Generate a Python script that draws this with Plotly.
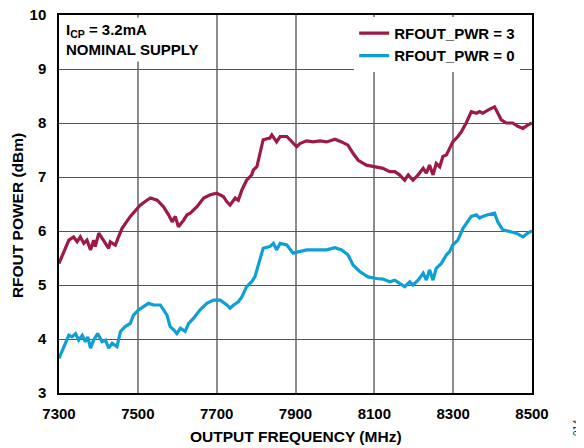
import plotly.graph_objects as go

freq_hi = [7300, 7325, 7337, 7346, 7354, 7363, 7371, 7380, 7388, 7392, 7401, 7413, 7426, 7430, 7443, 7451,
           7460, 7481, 7494, 7506, 7523, 7532, 7549, 7565, 7578, 7587, 7595, 7603, 7616, 7625, 7633, 7650,
           7667, 7684, 7700, 7717, 7726, 7734, 7747, 7755, 7764, 7776, 7789, 7793, 7802, 7818, 7835, 7840,
           7852, 7861, 7878, 7894, 7903, 7911, 7928, 7945, 7962, 7979, 8000, 8017, 8033, 8046, 8059, 8080,
           8101, 8122, 8139, 8152, 8164, 8177, 8186, 8198, 8211, 8224, 8232, 8240, 8249, 8257, 8266, 8274,
           8283, 8291, 8299, 8312, 8321, 8333, 8346, 8359, 8367, 8375, 8388, 8405, 8413, 8422, 8435, 8451,
           8464, 8477, 8489, 8500]
pwr_hi = [5.40, 5.83, 5.89, 5.80, 5.89, 5.77, 5.83, 5.65, 5.83, 5.71, 5.96, 5.83, 5.68, 5.80, 5.74, 5.89,
          6.05, 6.27, 6.39, 6.48, 6.57, 6.61, 6.57, 6.45, 6.30, 6.17, 6.27, 6.08, 6.20, 6.30, 6.33, 6.45,
          6.61, 6.67, 6.70, 6.64, 6.54, 6.48, 6.61, 6.57, 6.76, 6.94, 7.04, 7.13, 7.19, 7.69, 7.72, 7.78,
          7.65, 7.75, 7.75, 7.62, 7.56, 7.62, 7.67, 7.65, 7.67, 7.65, 7.70, 7.65, 7.59, 7.44, 7.31, 7.22,
          7.19, 7.16, 7.10, 7.10, 7.04, 6.94, 7.04, 6.94, 7.04, 7.16, 7.07, 7.22, 7.04, 7.25, 7.19, 7.38,
          7.41, 7.53, 7.65, 7.75, 7.84, 8.00, 8.21, 8.18, 8.21, 8.18, 8.24, 8.30, 8.18, 8.06, 8.00, 8.00,
          7.94, 7.90, 7.96, 8.00]

freq_lo = [7300, 7312, 7325, 7333, 7342, 7350, 7359, 7367, 7373, 7380, 7388, 7398, 7409, 7418, 7426, 7435,
           7447, 7456, 7468, 7481, 7489, 7502, 7515, 7527, 7540, 7557, 7574, 7582, 7591, 7599, 7608, 7620,
           7629, 7641, 7658, 7675, 7692, 7709, 7726, 7734, 7743, 7755, 7764, 7776, 7789, 7797, 7818, 7835,
           7844, 7852, 7861, 7878, 7894, 7911, 7928, 7945, 7962, 7979, 8000, 8017, 8033, 8046, 8063, 8084,
           8106, 8122, 8139, 8152, 8164, 8177, 8190, 8198, 8211, 8224, 8232, 8240, 8249, 8257, 8270, 8283,
           8291, 8299, 8312, 8325, 8346, 8359, 8367, 8375, 8388, 8405, 8413, 8426, 8443, 8460, 8477, 8489,
           8500]
pwr_lo = [3.64, 3.86, 4.07, 4.04, 4.10, 3.98, 4.07, 3.95, 4.04, 3.83, 3.98, 4.10, 3.95, 3.98, 3.83, 3.92,
          3.86, 4.14, 4.23, 4.29, 4.44, 4.54, 4.60, 4.66, 4.63, 4.63, 4.44, 4.23, 4.17, 4.10, 4.20, 4.14,
          4.29, 4.38, 4.54, 4.66, 4.72, 4.72, 4.63, 4.57, 4.63, 4.69, 4.78, 4.97, 5.06, 5.15, 5.68, 5.71,
          5.77, 5.65, 5.77, 5.74, 5.59, 5.62, 5.65, 5.65, 5.65, 5.65, 5.69, 5.65, 5.56, 5.37, 5.25, 5.15,
          5.12, 5.11, 5.06, 5.09, 5.03, 4.97, 5.06, 5.00, 5.09, 5.22, 5.09, 5.28, 5.09, 5.31, 5.40, 5.56,
          5.62, 5.74, 5.83, 6.05, 6.27, 6.30, 6.24, 6.27, 6.30, 6.33, 6.17, 6.02, 5.99, 5.96, 5.89, 5.96,
          6.00]

x_ticks = [7300, 7500, 7700, 7900, 8100, 8300, 8500]
y_ticks = [3, 4, 5, 6, 7, 8, 9, 10]

FONT = "Liberation Sans"
RED = "#9c1a43"
BLUE = "#0ea0d5"

fig = go.Figure()
fig.add_trace(go.Scatter(x=freq_hi, y=pwr_hi, mode="lines", name="<b>RFOUT_PWR = 3</b>",
                         line=dict(color=RED, width=3.2)))
fig.add_trace(go.Scatter(x=freq_lo, y=pwr_lo, mode="lines", name="<b>RFOUT_PWR = 0</b>",
                         line=dict(color=BLUE, width=3.2)))

# page has an 8px body margin, so the figure is 576x440 and offset by 8px
fig.update_layout(
    width=576, height=440,
    margin=dict(l=51, r=52, t=7, b=55, autoexpand=False),
    paper_bgcolor="white", plot_bgcolor="white",
    font=dict(family=FONT, size=15, color="black"),
    showlegend=True,
    legend=dict(x=0.975, xanchor="right", y=0.995, yanchor="top", bgcolor="white",
                font=dict(family=FONT, size=15, color="black"),
                tracegroupgap=0, itemwidth=30, borderwidth=0),
    xaxis=dict(range=[7300, 8500], tickvals=x_ticks, ticktext=[f"<b>{v}</b>" for v in x_ticks],
               showgrid=True, gridcolor="#8c8c8c", gridwidth=1.5, automargin=False,
               showline=True, linecolor="black", linewidth=1.5, mirror=True,
               ticks="", ticklabelstandoff=6, zeroline=False, ticklabeloverflow="allow",
               tickfont=dict(family=FONT, size=15)),
    yaxis=dict(range=[3, 10], tickvals=y_ticks, ticktext=[f"<b>{v}</b>" for v in y_ticks],
               showgrid=True, gridcolor="#555555", gridwidth=1.2, automargin=False,
               showline=True, linecolor="black", linewidth=1.5, mirror=True,
               ticks="", ticklabelstandoff=8, zeroline=False, ticklabeloverflow="allow",
               tickfont=dict(family=FONT, size=15)),
)

fig.add_annotation(xref="paper", yref="paper", x=0.5, y=0.0, xanchor="center", yanchor="middle",
                   yshift=-43, text="<b>OUTPUT FREQUENCY (MHz)</b>", showarrow=False,
                   font=dict(family=FONT, size=15.5, color="black"))
fig.add_annotation(xref="paper", yref="paper", x=0.0, y=0.468, xanchor="center", yanchor="middle",
                   xshift=-42, text="<b>RFOUT POWER (dBm)</b>", textangle=-90, showarrow=False,
                   font=dict(family=FONT, size=15.5, color="black"))

fig.add_annotation(xref="paper", yref="paper", x=0.0, y=1.0, xanchor="left", yanchor="top",
                   xshift=3, yshift=-2,
                   text="<b>I<sub>CP</sub> = 3.2mA<br>NOMINAL SUPPLY</b>", showarrow=False,
                   align="left", bgcolor="white", borderpad=3,
                   font=dict(family=FONT, size=15, color="black"))

fig.add_annotation(xref="paper", yref="paper", x=1.0, y=0.0, xanchor="center", yanchor="middle",
                   xshift=45, yshift=-35, text="014", textangle=-90, showarrow=False,
                   borderpad=0, font=dict(family=FONT, size=10, color="#333333"))

fig.write_html("out.html")
